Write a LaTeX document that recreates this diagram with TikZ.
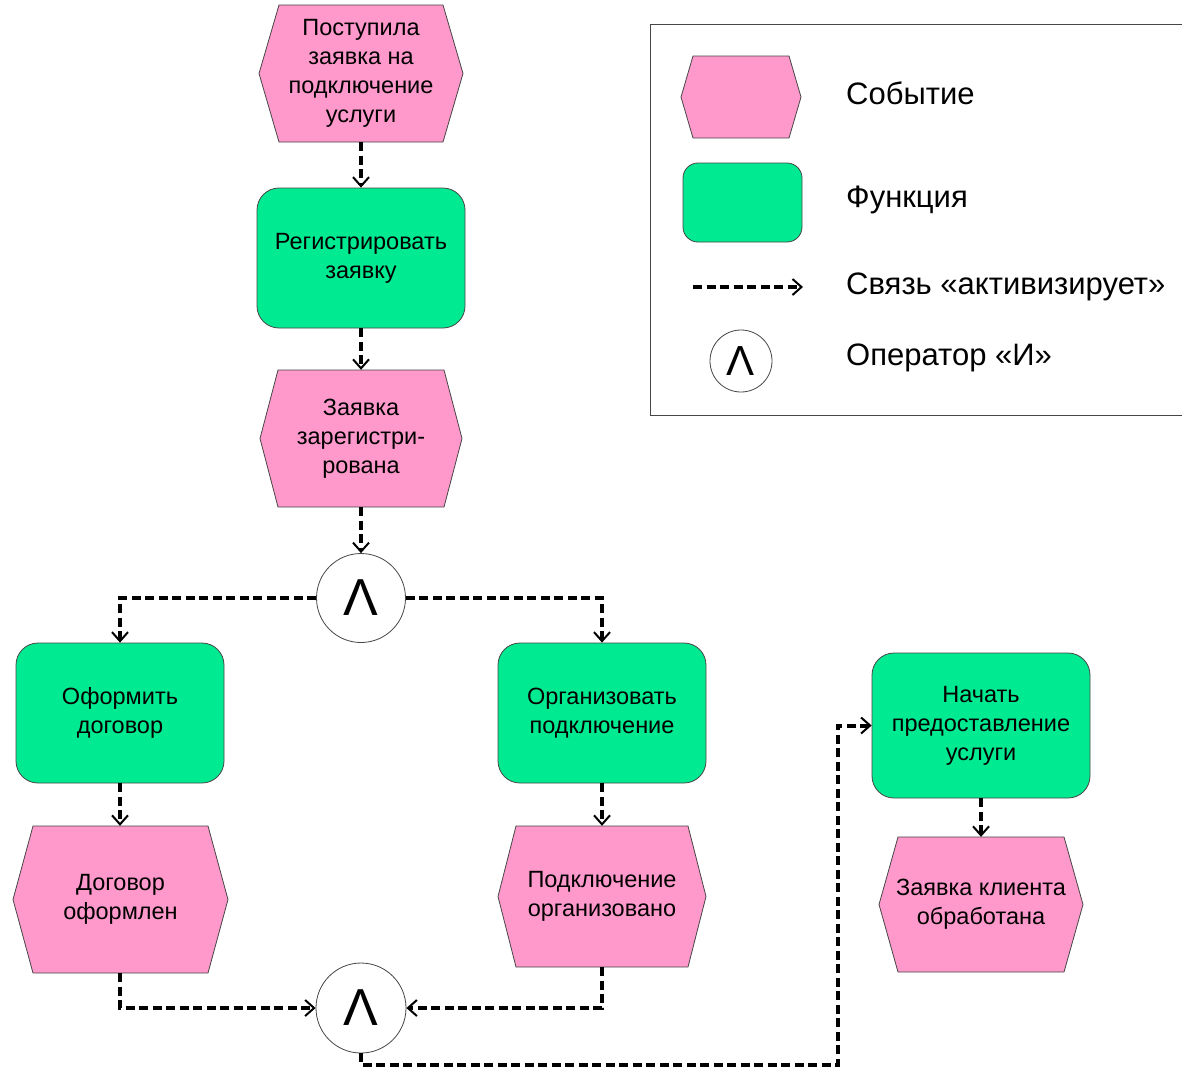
\documentclass[tikz,border=0pt]{standalone}
\usepackage{fontspec}
\setmainfont{Liberation Sans}
\usetikzlibrary{arrows.meta}
\definecolor{evpink}{RGB}{255,153,204}
\definecolor{fngreen}{RGB}{0,235,145}
\definecolor{edgegray}{RGB}{70,70,70}
\newcommand\eventbox[7]{%
  \filldraw[evtshape] ({#2-#4/2+#6},{#3-#5/2}) -- ({#2+#4/2-#6},{#3-#5/2}) -- ({#2+#4/2},#3)
    -- ({#2+#4/2-#6},{#3+#5/2}) -- ({#2-#4/2+#6},{#3+#5/2}) -- ({#2-#4/2},#3) -- cycle;
  \node[evtnode, minimum width=#4pt, minimum height=#5pt] (#1) at (#2,#3) {#7};}
\begin{document}
\begin{tikzpicture}[x=1pt,y=-1pt,
  nodefont/.style={font=\fontsize{23.5}{29}\selectfont},
  evtshape/.style={draw=edgegray, line width=0.8pt, fill=evpink},
  evtnode/.style={nodefont, align=center, inner sep=0pt, rectangle},
  fn/.style={nodefont, draw=edgegray, line width=0.8pt, fill=fngreen, rounded corners=22pt,
             align=center, inner sep=0pt, rectangle},
  op/.style={circle, draw=edgegray, line width=0.8pt, fill=white, inner sep=0pt,
             font=\fontsize{52}{52}\selectfont},
  link/.style={line width=4pt, dash pattern=on 9pt off 4.5pt,
               -{Straight Barb[length=9pt,width=16pt,line width=2pt]}},
  legtext/.style={anchor=west, font=\fontsize{31}{31}\selectfont, inner sep=0pt}]
\clip (0,0) rectangle (1182,1069);
\fill[white] (0,0) rectangle (1182,1069);

% legend
\draw[draw=edgegray, line width=1pt] (650,24) rectangle (1200,415);
\eventbox{lgev}{741}{97}{120}{82}{12}{}
\node[fn, rounded corners=15pt, minimum width=119pt, minimum height=79pt] (lgfn) at (742.5,202.5) {};
\coordinate (lga) at (693,287);
\coordinate (lgb) at (803,287);
\draw[link, line width=3.4pt] (lga) -- (lgb);
\node[op, minimum size=62pt, font=\fontsize{42}{42}\selectfont] (lgop) at (741,361) {Λ};
\node[legtext] (t1) at (846,93) {Событие};
\node[legtext] (t2) at (846,200) {Функция};
\node[legtext] (t3) at (846,287) {Связь «активизирует»};
\node[legtext] (t4) at (846,358) {Оператор «И»};

% events and functions
\eventbox{e1}{361}{73.5}{204}{137}{20}{Поступила\\заявка на\\подключение\\услуги}
\node[fn, minimum width=208pt, minimum height=140pt] (f1) at (361,258) {Регистрировать\\заявку};
\eventbox{e2}{361}{438.5}{202}{137}{18}{Заявка\\зарегистри-\\рована}
\node[op, minimum size=89pt] (op1) at (361,598) {Λ};
\node[fn, minimum width=208pt, minimum height=140pt] (f2) at (120,713) {Оформить\\договор};
\node[fn, minimum width=208pt, minimum height=140pt] (f3) at (602,713) {Организовать\\подключение};
\eventbox{e3}{120.5}{899.5}{215}{147}{20}{Договор\\оформлен}
\eventbox{e4}{602}{896.5}{208}{141}{18}{Подключение\\организовано}
\node[op, minimum size=90pt] (op2) at (361,1008) {Λ};
\node[fn, minimum width=218pt, minimum height=145pt] (f4) at (981,725.5) {Начать\\предоставление\\услуги};
\eventbox{e5}{981}{904.5}{204}{135}{19}{Заявка клиента\\обработана}

% connectors
\draw[link] (e1.south) -- (f1.north);
\draw[link] (f1.south) -- (e2.north);
\draw[link] (e2.south) -- (op1.north);
\draw[link] (op1.west) -| (f2.north);
\draw[link] (op1.east) -| (f3.north);
\draw[link] (f2.south) -- (f2.south |- e3.north);
\draw[link] (f3.south) -- (f3.south |- e4.north);
\draw[link] (e3.south -| f2.south) |- (op2.west);
\draw[link] (e4.south -| f3.south) |- (op2.east);
\coordinate (c1) at (838,1065);
\draw[link] (op2.south) |- (c1) |- (f4.west);
\draw[link] (f4.south) -- (f4.south |- e5.north);
\end{tikzpicture}
\end{document}
